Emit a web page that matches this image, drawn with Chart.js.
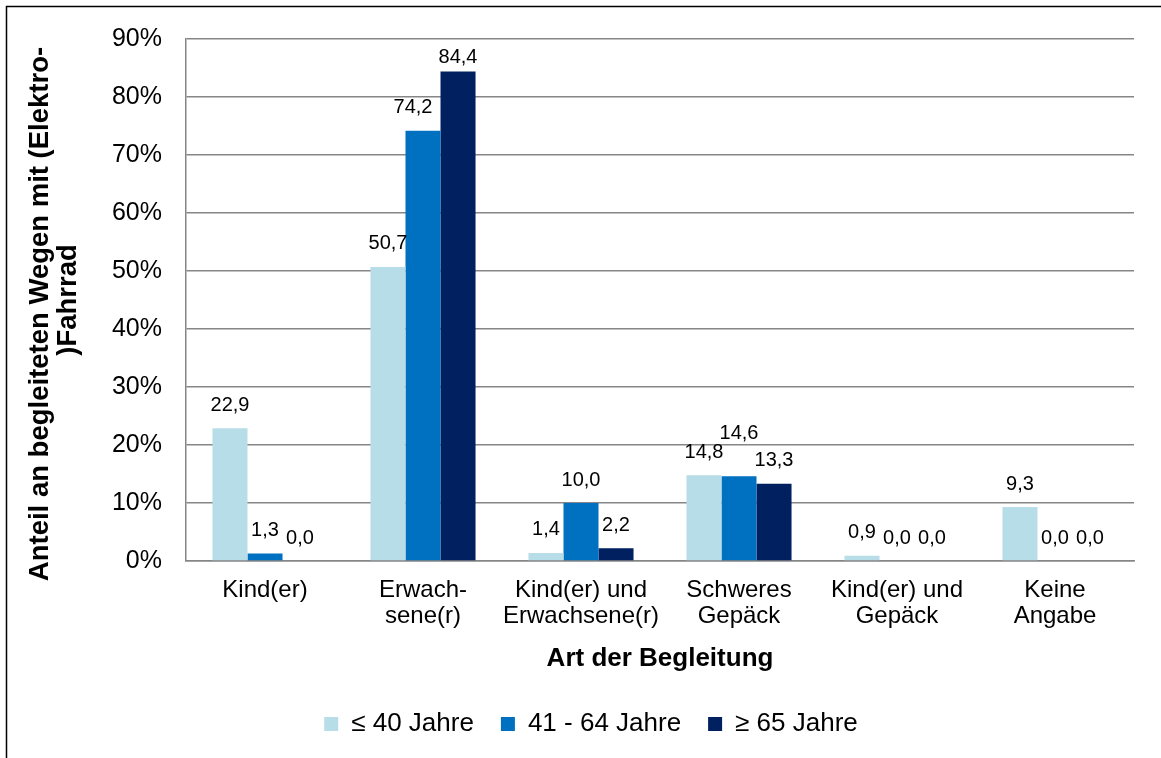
<!DOCTYPE html>
<html>
<head>
<meta charset="utf-8">
<script src="https://cdn.jsdelivr.net/npm/chart.js@4/dist/chart.umd.min.js"></script>
<style>
  html, body { margin: 0; padding: 0; background: #fff; }
  #wrap { width: 1161px; height: 758px; }
</style>
</head>
<body>
<div id="wrap"><canvas id="c" width="1161" height="758"></canvas></div>
<script>
const categories = [
  ["Kind(er)"],
  ["Erwach-", "sene(r)"],
  ["Kind(er) und", "Erwachsene(r)"],
  ["Schweres", "Gepäck"],
  ["Kind(er) und", "Gepäck"],
  ["Keine", "Angabe"]
];
const seriesNames = ["≤ 40 Jahre", "41 - 64 Jahre", "≥ 65 Jahre"];
const upTo40 = [22.9, 50.7, 1.4, 14.8, 0.9, 9.3];
const from41to64 = [1.3, 74.2, 10.0, 14.6, 0.0, 0.0];
const from65 = [0.0, 84.4, 2.2, 13.3, 0.0, 0.0];
const yTickValues = [0, 10, 20, 30, 40, 50, 60, 70, 80, 90];
const yTitleLines = ["Anteil an begleiteten Wegen mit (Elektro-", ")Fahrrad"];
const xTitle = "Art der Begleitung";

const FONT = "'Liberation Sans', Arial, Helvetica, sans-serif";
const colors = ["#B7DDE8", "#0070C0", "#002060"];

const frameAndTitle = {
  id: 'frameAndTitle',
  beforeDraw(chart) {
    const ctx = chart.ctx;
    ctx.save();
    ctx.fillStyle = '#fff';
    ctx.fillRect(0, 0, chart.width, chart.height);
    ctx.restore();
  },
  afterDraw(chart) {
    const ctx = chart.ctx;
    ctx.save();
    ctx.strokeStyle = '#000';
    ctx.lineWidth = 1.5;
    ctx.strokeRect(6.5, 6.5, 1300, 900);
    ctx.fillStyle = '#000';
    ctx.font = "bold 27.5px " + FONT;
    ctx.textAlign = 'center';
    ctx.textBaseline = 'middle';
    const pos = [[40, 314], [68, 300]];
    yTitleLines.forEach((t, i) => {
      ctx.save();
      ctx.translate(pos[i][0], pos[i][1]);
      ctx.rotate(-Math.PI / 2);
      ctx.fillText(t, 0, 0);
      ctx.restore();
    });
    ctx.restore();
  }
};

const dataLabels = {
  id: 'dataLabels',
  afterDatasetsDraw(chart, args, opts) {
    const ctx = chart.ctx;
    ctx.save();
    ctx.fillStyle = '#000';
    ctx.font = "20px " + FONT;
    ctx.textAlign = 'center';
    ctx.textBaseline = 'middle';
    chart.data.datasets.forEach((ds, i) => {
      const meta = chart.getDatasetMeta(i);
      meta.data.forEach((el, j) => {
        const v = ds.data[j];
        const txt = v.toFixed(1).replace('.', ',');
        const s = (opts.shift && opts.shift[i + '-' + j]) || [0, 0];
        ctx.fillText(txt, el.x + s[0], el.y - opts.gap + s[1]);
      });
    });
    ctx.restore();
  }
};

new Chart(document.getElementById('c'), {
  type: 'bar',
  data: {
    labels: categories,
    datasets: [
      { label: seriesNames[0], data: upTo40, backgroundColor: colors[0] },
      { label: seriesNames[1], data: from41to64, backgroundColor: colors[1] },
      { label: seriesNames[2], data: from65, backgroundColor: colors[2] }
    ]
  },
  options: {
    responsive: false,
    animation: false,
    devicePixelRatio: 1,
    layout: { padding: { left: 48, top: 36, right: 27, bottom: 11 } },
    datasets: { bar: { categoryPercentage: 0.665, barPercentage: 1.0, borderWidth: 0 } },
    scales: {
      x: {
        grid: { display: false, drawTicks: false },
        border: { display: true, color: '#868686', width: 1.5 },
        ticks: {
          color: '#000',
          font: { family: FONT, size: 24, lineHeight: 1.1 },
          padding: 16,
          maxRotation: 0,
          autoSkip: false
        },
        title: {
          display: true,
          text: xTitle,
          color: '#000',
          font: { family: FONT, size: 26, weight: 'bold', lineHeight: 1.2 },
          padding: { top: 0, bottom: 10 }
        },
        afterFit(scale) { scale.height = 123; }
      },
      y: {
        min: 0,
        max: 90,
        afterBuildTicks(scale) { scale.ticks = yTickValues.map(v => ({ value: v })); },
        grid: { color: '#868686', lineWidth: 1.5, drawTicks: false },
        border: { display: true, color: '#868686', width: 1.5 },
        ticks: {
          color: '#000',
          font: { family: FONT, size: 25 },
          padding: 24,
          callback: v => v + '%'
        },
        afterFit(scale) { scale.width = 138; }
      }
    },
    plugins: {
      legend: {
        position: 'bottom',
        labels: {
          color: '#000',
          boxWidth: 14,
          boxHeight: 14,
          padding: 27,
          font: { family: FONT, size: 26 }
        }
      },
      tooltip: { enabled: false },
      dataLabels: { gap: 23, shift: { '1-1': [-10, 0], '1-3': [0, -20], '2-1': [0, 9] } }
    }
  },
  plugins: [frameAndTitle, dataLabels]
});
</script>
</body>
</html>
